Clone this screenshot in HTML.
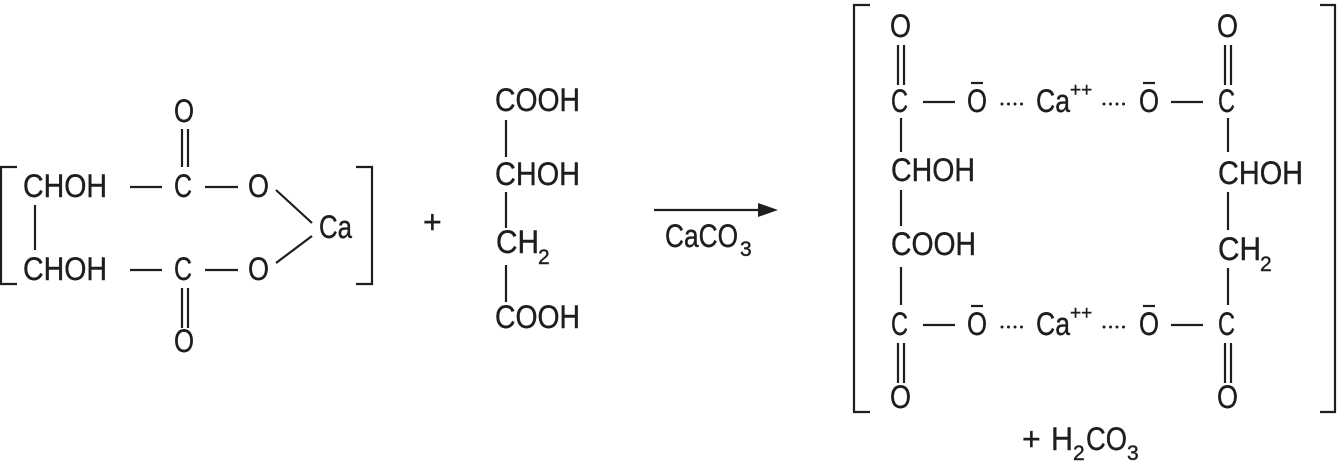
<!DOCTYPE html>
<html><head><meta charset="utf-8"><style>html,body{margin:0;padding:0;background:#fff}svg{display:block}</style></head><body>
<svg width="1338" height="467" viewBox="0 0 1338 467" xmlns="http://www.w3.org/2000/svg" font-family="Liberation Sans, sans-serif" font-size="32" fill="#1e1e1e">
<g stroke="#1e1e1e" stroke-width="2.2" fill="none">
<polyline points="17,167 1,167 1,284 17,284"/>
<polyline points="356,167 372,167 372,284 356,284"/>
<line x1="35" y1="205" x2="35" y2="250"/>
<line x1="130" y1="187" x2="162" y2="187"/>
<line x1="205" y1="187" x2="238" y2="187"/>
<line x1="130" y1="270" x2="162" y2="270"/>
<line x1="205" y1="270" x2="238" y2="270"/>
<line x1="182" y1="129" x2="182" y2="167"/><line x1="188" y1="129" x2="188" y2="167"/>
<line x1="182" y1="288" x2="182" y2="328"/><line x1="188" y1="288" x2="188" y2="328"/>
<line x1="276" y1="190" x2="312" y2="223"/>
<line x1="276" y1="263" x2="312" y2="236"/>
<line x1="506" y1="120" x2="506" y2="157"/>
<line x1="506" y1="192" x2="506" y2="228"/>
<line x1="506" y1="265" x2="506" y2="302"/>
<line x1="654" y1="210" x2="765" y2="210"/>
<polyline points="870,5 854,5 854,412 870,412"/>
<polyline points="1320,5 1335,5 1335,412 1320,412"/>
<line x1="898" y1="45" x2="898" y2="85"/><line x1="904" y1="45" x2="904" y2="85"/>
<line x1="1225" y1="45" x2="1225" y2="85"/><line x1="1231" y1="45" x2="1231" y2="85"/>
<line x1="898" y1="343" x2="898" y2="383"/><line x1="904" y1="343" x2="904" y2="383"/>
<line x1="1225" y1="343" x2="1225" y2="383"/><line x1="1231" y1="343" x2="1231" y2="383"/>
<line x1="923" y1="102" x2="955" y2="102"/><line x1="1171" y1="102" x2="1203" y2="102"/>
<line x1="923" y1="325" x2="955" y2="325"/><line x1="1171" y1="325" x2="1203" y2="325"/>
<line x1="901" y1="118" x2="901" y2="152"/><line x1="1228" y1="118" x2="1228" y2="152"/>
<line x1="901" y1="190" x2="901" y2="226"/><line x1="1228" y1="192" x2="1228" y2="230"/>
<line x1="901" y1="267" x2="901" y2="305"/><line x1="1228" y1="268" x2="1228" y2="305"/>
<line x1="971" y1="83" x2="983" y2="83"/><line x1="1143" y1="83" x2="1155" y2="83"/>
<line x1="971" y1="306" x2="983" y2="306"/><line x1="1143" y1="306" x2="1155" y2="306"/>
<g stroke-dasharray="0,6.5" stroke-width="3" stroke-linecap="round">
<line x1="1002" y1="104" x2="1024" y2="104"/><line x1="1104" y1="104" x2="1126" y2="104"/>
<line x1="1002" y1="327" x2="1024" y2="327"/><line x1="1104" y1="327" x2="1126" y2="327"/>
</g>
</g>
<polygon points="778,210 758,203 758,217" fill="#1e1e1e"/>
<g stroke="#1e1e1e" stroke-width="0.4">
<text x="23" y="197" textLength="84" lengthAdjust="spacingAndGlyphs">CHOH</text>
<text x="23" y="280" textLength="84" lengthAdjust="spacingAndGlyphs">CHOH</text>
<text x="174" y="197" textLength="18" lengthAdjust="spacingAndGlyphs">C</text>
<text x="174" y="280" textLength="18" lengthAdjust="spacingAndGlyphs">C</text>
<text x="174" y="122" textLength="20" lengthAdjust="spacingAndGlyphs">O</text>
<text x="174" y="352" textLength="20" lengthAdjust="spacingAndGlyphs">O</text>
<text x="248" y="197" textLength="21" lengthAdjust="spacingAndGlyphs">O</text>
<text x="248" y="280" textLength="21" lengthAdjust="spacingAndGlyphs">O</text>
<text x="319" y="238" textLength="33" lengthAdjust="spacingAndGlyphs">Ca</text>
<text x="423" y="233">+</text>
<text x="495" y="111" textLength="85" lengthAdjust="spacingAndGlyphs">COOH</text>
<text x="495" y="185" textLength="85" lengthAdjust="spacingAndGlyphs">CHOH</text>
<text x="496" y="253" textLength="43" lengthAdjust="spacingAndGlyphs">CH</text>
<text x="538" y="264" font-size="21">2</text>
<text x="495" y="328" textLength="85" lengthAdjust="spacingAndGlyphs">COOH</text>
<text x="665" y="247" textLength="73" lengthAdjust="spacingAndGlyphs">CaCO</text>
<text x="740" y="256" font-size="21">3</text>
<text x="890" y="37" textLength="21" lengthAdjust="spacingAndGlyphs">O</text>
<text x="1217" y="37" textLength="21" lengthAdjust="spacingAndGlyphs">O</text>
<text x="891" y="112" textLength="17" lengthAdjust="spacingAndGlyphs">C</text>
<text x="1218" y="112" textLength="17" lengthAdjust="spacingAndGlyphs">C</text>
<text x="967" y="112" textLength="20" lengthAdjust="spacingAndGlyphs">O</text>
<text x="1139" y="112" textLength="20" lengthAdjust="spacingAndGlyphs">O</text>
<text x="1036" y="112" textLength="34" lengthAdjust="spacingAndGlyphs">Ca</text>
<text x="1070" y="96" font-size="19">++</text>
<text x="891" y="181" textLength="84" lengthAdjust="spacingAndGlyphs">CHOH</text>
<text x="1218" y="184" textLength="85" lengthAdjust="spacingAndGlyphs">CHOH</text>
<text x="891" y="255" textLength="85" lengthAdjust="spacingAndGlyphs">COOH</text>
<text x="1218" y="260" textLength="43" lengthAdjust="spacingAndGlyphs">CH</text>
<text x="1260" y="271" font-size="21">2</text>
<text x="891" y="335" textLength="17" lengthAdjust="spacingAndGlyphs">C</text>
<text x="1218" y="335" textLength="17" lengthAdjust="spacingAndGlyphs">C</text>
<text x="967" y="335" textLength="20" lengthAdjust="spacingAndGlyphs">O</text>
<text x="1139" y="335" textLength="20" lengthAdjust="spacingAndGlyphs">O</text>
<text x="1036" y="335" textLength="34" lengthAdjust="spacingAndGlyphs">Ca</text>
<text x="1070" y="319" font-size="19">++</text>
<text x="890" y="408" textLength="21" lengthAdjust="spacingAndGlyphs">O</text>
<text x="1217" y="408" textLength="21" lengthAdjust="spacingAndGlyphs">O</text>
<text x="1022" y="450">+</text>
<text x="1051" y="450" textLength="22" lengthAdjust="spacingAndGlyphs">H</text>
<text x="1073" y="460" font-size="21">2</text>
<text x="1086" y="450" textLength="41" lengthAdjust="spacingAndGlyphs">CO</text>
<text x="1127" y="460" font-size="21">3</text>
</g>
</svg>
</body></html>
